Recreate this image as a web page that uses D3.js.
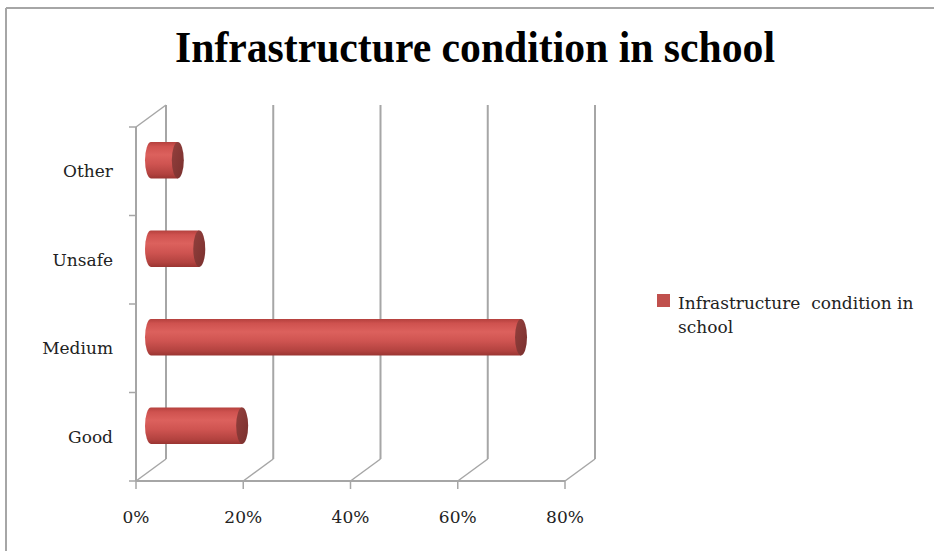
<!DOCTYPE html>
<html>
<head>
<meta charset="utf-8">
<script src="https://cdn.jsdelivr.net/npm/d3@7/dist/d3.min.js"></script>
<style>
  html, body { margin: 0; padding: 0; background: #fff; }
  svg { display: block; }
</style>
</head>
<body>
<svg id="chart" width="934" height="551"></svg>
<script>
// Chart data
const categories = ["Other", "Unsafe", "Medium", "Good"];
const values = [0.05, 0.09, 0.69, 0.17];
const xTicks = [0, 0.2, 0.4, 0.6, 0.8];
const titleText = "Infrastructure condition in school";
const seriesName = ["Infrastructure  condition in", "school"];

const svg = d3.select("#chart");
const W = 934, H = 551;
const serif = "'DejaVu Serif', 'Liberation Serif', serif";

// Outer frame (top and left edges show)
svg.append("line").attr("x1", 6).attr("y1", 8).attr("x2", W).attr("y2", 8)
  .attr("stroke", "#a6a6a6").attr("stroke-width", 2);
svg.append("line").attr("x1", 6).attr("y1", 8).attr("x2", 6).attr("y2", H)
  .attr("stroke", "#a6a6a6").attr("stroke-width", 2);

// Title
svg.append("text")
  .attr("x", 175).attr("y", 62)
  .attr("textLength", 600).attr("lengthAdjust", "spacingAndGlyphs")
  .attr("font-family", "'Liberation Serif', 'DejaVu Serif', serif")
  .attr("font-weight", "bold").attr("font-size", 44)
  .attr("fill", "#000")
  .text(titleText);

// Scales (front plane); the back wall is offset by (depthX, depthY)
const x = d3.scaleLinear().domain([0, 0.8]).range([136, 565]);
const y = d3.scaleBand().domain(categories).range([127, 481]);
const depthX = 30, depthY = -22;
const gridColor = "#a6a6a6";

const grid = svg.append("g");
// Back-wall vertical gridlines + floor diagonals
xTicks.forEach(t => {
  const fx = x(t), bx = x(t) + depthX;
  grid.append("line")
    .attr("x1", bx).attr("y1", y.range()[0] + depthY)
    .attr("x2", bx).attr("y2", y.range()[1] + depthY)
    .attr("stroke", gridColor).attr("stroke-width", 2);
  grid.append("line")
    .attr("x1", fx).attr("y1", y.range()[1])
    .attr("x2", bx).attr("y2", y.range()[1] + depthY)
    .attr("stroke", gridColor).attr("stroke-width", 1.5);
});
// Left side wall top edge
grid.append("line")
  .attr("x1", x(0)).attr("y1", y.range()[0])
  .attr("x2", x(0) + depthX).attr("y2", y.range()[0] + depthY)
  .attr("stroke", gridColor).attr("stroke-width", 1.5);

// Front vertical (category) axis
grid.append("line")
  .attr("x1", x(0)).attr("y1", y.range()[0])
  .attr("x2", x(0)).attr("y2", y.range()[1])
  .attr("stroke", gridColor).attr("stroke-width", 2);
const yEdges = categories.map(c => y(c)).concat([y.range()[1]]);
yEdges.forEach(v => {
  grid.append("line")
    .attr("x1", x(0) - 7).attr("y1", v).attr("x2", x(0)).attr("y2", v)
    .attr("stroke", gridColor).attr("stroke-width", 1.5);
});

// Front horizontal (value) axis
grid.append("line")
  .attr("x1", x(0)).attr("y1", y.range()[1])
  .attr("x2", x(0.8)).attr("y2", y.range()[1])
  .attr("stroke", gridColor).attr("stroke-width", 2);
xTicks.forEach(t => {
  grid.append("line")
    .attr("x1", x(t)).attr("y1", y.range()[1])
    .attr("x2", x(t)).attr("y2", y.range()[1] + 8)
    .attr("stroke", gridColor).attr("stroke-width", 1.5);
});

// Tick labels
svg.append("g").selectAll("text").data(xTicks).join("text")
  .attr("x", d => x(d)).attr("y", 523)
  .attr("text-anchor", "middle")
  .attr("font-family", serif).attr("font-size", 17).attr("fill", "#222")
  .text(d => d3.format(".0%")(d));

svg.append("g").selectAll("text").data(categories).join("text")
  .attr("x", 113).attr("y", d => y(d) + y.bandwidth() / 2 + 6)
  .attr("text-anchor", "end")
  .attr("font-family", serif).attr("font-size", 17).attr("fill", "#222")
  .text(d => d);

// Cylinder gradients
const defs = svg.append("defs");
const body = defs.append("linearGradient").attr("id", "cylBody")
  .attr("x1", 0).attr("y1", 0).attr("x2", 0).attr("y2", 1);
[[0, "#b5413e"], [0.12, "#cf524f"], [0.35, "#dc615d"], [0.6, "#cf5451"], [0.88, "#b2423f"], [1, "#9a3532"]]
  .forEach(([o, c]) => body.append("stop").attr("offset", o).attr("stop-color", c));
const cap = defs.append("linearGradient").attr("id", "cylCap")
  .attr("x1", 0).attr("y1", 0).attr("x2", 1).attr("y2", 1);
[[0, "#93403d"], [1, "#7a302e"]]
  .forEach(([o, c]) => cap.append("stop").attr("offset", o).attr("stop-color", c));

// Horizontal cylinders sit halfway into the depth
const barH = y.bandwidth() * 0.41;
const rx = 6;
const bars = svg.append("g").selectAll("g").data(categories.map((c, i) => ({ c, v: values[i] })))
  .join("g");
bars.append("path")
  .attr("d", d => {
    const x0 = x(0) + depthX / 2, x1 = x(d.v) + depthX / 2;
    const cy = y(d.c) + y.bandwidth() / 2 + depthY / 2;
    const top = cy - barH / 2, bot = cy + barH / 2;
    return `M${x1},${top} L${x0},${top} A${rx},${barH / 2} 0 0 0 ${x0},${bot} L${x1},${bot} Z`;
  })
  .attr("fill", "url(#cylBody)");
bars.append("ellipse")
  .attr("cx", d => x(d.v) + depthX / 2)
  .attr("cy", d => y(d.c) + y.bandwidth() / 2 + depthY / 2)
  .attr("rx", rx).attr("ry", barH / 2)
  .attr("fill", "url(#cylCap)");

// Legend
svg.append("rect").attr("x", 657).attr("y", 294).attr("width", 13).attr("height", 13)
  .attr("fill", "#c0504d");
svg.append("g").selectAll("text").data(seriesName).join("text")
  .attr("x", 678).attr("y", (d, i) => 309 + i * 24)
  .style("white-space", "pre")
  .attr("font-family", serif).attr("font-size", 17).attr("fill", "#222")
  .text(d => d);
</script>
</body>
</html>
